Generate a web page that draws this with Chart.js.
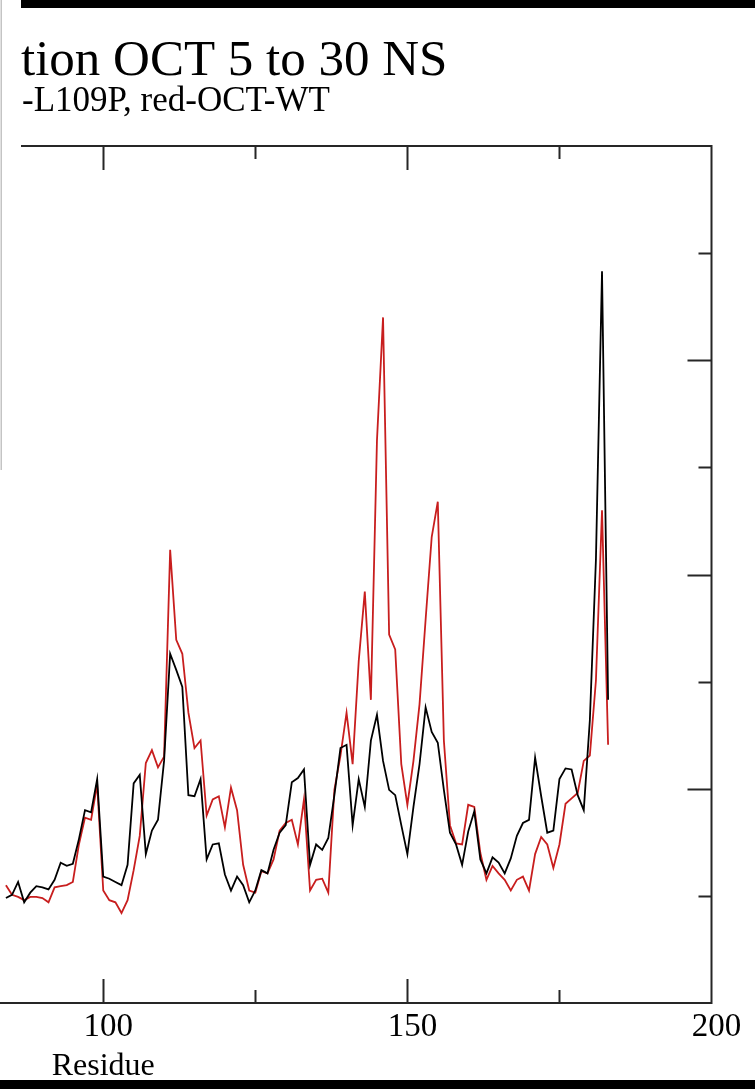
<!DOCTYPE html>
<html>
<head>
<meta charset="utf-8">
<script src="https://cdn.jsdelivr.net/npm/chart.js@4.4.1/dist/chart.umd.min.js"></script>
<style>
html, body { margin: 0; padding: 0; background: #fff; overflow: hidden; width: 755px; height: 1089px; }
#wrap { position: relative; width: 755px; height: 1089px; overflow: hidden; background: #fff; }
#c { position: absolute; left: -513px; top: 0; }
</style>
</head>
<body>
<div id="wrap"><canvas id="c" width="1268" height="1089"></canvas></div>
<script>
// ---- texts ----
const titleText = "tion OCT 5 to 30 NS";
const subtitleText = "-L109P, red-OCT-WT";
const xAxisTitle = "Residue";
const xTickLabels = [100, 150, 200];

// ---- data (residue index, RMSF) ----
const residues = [
  84, 85, 86, 87, 88, 89, 90, 91, 92, 93,
  94, 95, 96, 97, 98, 99, 100, 101, 102, 103,
  104, 105, 106, 107, 108, 109, 110, 111, 112, 113,
  114, 115, 116, 117, 118, 119, 120, 121, 122, 123,
  124, 125, 126, 127, 128, 129, 130, 131, 132, 133,
  134, 135, 136, 137, 138, 139, 140, 141, 142, 143,
  144, 145, 146, 147, 148, 149, 150, 151, 152, 153,
  154, 155, 156, 157, 158, 159, 160, 161, 162, 163,
  164, 165, 166, 167, 168, 169, 170, 171, 172, 173,
  174, 175, 176, 177, 178, 179, 180, 181, 182, 183
];

// black: OCT-L109P
const rmsfL109P = [
  0.098, 0.101, 0.113, 0.094, 0.103, 0.109, 0.108, 0.106, 0.115, 0.131,
  0.128, 0.130, 0.153, 0.180, 0.178, 0.209, 0.118, 0.116, 0.113, 0.110,
  0.129, 0.205, 0.213, 0.139, 0.161, 0.171, 0.226, 0.326, 0.311, 0.295,
  0.194, 0.193, 0.209, 0.134, 0.148, 0.149, 0.120, 0.105, 0.118, 0.110,
  0.094, 0.105, 0.124, 0.121, 0.143, 0.159, 0.166, 0.206, 0.210, 0.218,
  0.129, 0.148, 0.143, 0.154, 0.194, 0.238, 0.241, 0.166, 0.209, 0.183,
  0.245, 0.269, 0.226, 0.199, 0.194, 0.166, 0.139, 0.183, 0.223, 0.276,
  0.253, 0.243, 0.199, 0.159, 0.148, 0.129, 0.160, 0.179, 0.134, 0.121,
  0.136, 0.131, 0.121, 0.135, 0.156, 0.168, 0.171, 0.229, 0.193, 0.159,
  0.161, 0.209, 0.219, 0.218, 0.194, 0.180, 0.264, 0.414, 0.683, 0.283
];

// red: OCT-WT
const rmsfWT = [
  0.110, 0.101, 0.099, 0.096, 0.099, 0.099, 0.098, 0.094, 0.108, 0.109,
  0.110, 0.113, 0.148, 0.173, 0.171, 0.204, 0.105, 0.096, 0.094, 0.084,
  0.096, 0.124, 0.156, 0.224, 0.236, 0.220, 0.230, 0.423, 0.339, 0.326,
  0.271, 0.238, 0.245, 0.175, 0.190, 0.193, 0.164, 0.201, 0.180, 0.129,
  0.105, 0.103, 0.123, 0.121, 0.134, 0.161, 0.168, 0.171, 0.148, 0.190,
  0.105, 0.115, 0.116, 0.103, 0.199, 0.231, 0.271, 0.223, 0.319, 0.384,
  0.283, 0.525, 0.640, 0.344, 0.330, 0.223, 0.185, 0.226, 0.279, 0.358,
  0.435, 0.468, 0.245, 0.166, 0.149, 0.148, 0.185, 0.183, 0.140, 0.115,
  0.128, 0.121, 0.115, 0.105, 0.115, 0.118, 0.105, 0.139, 0.155, 0.148,
  0.126, 0.148, 0.186, 0.191, 0.196, 0.226, 0.231, 0.301, 0.460, 0.241
];

// ---- axis ranges ----
const xMin = 0, xMax = 200, xMajor = 50, xMinor = 25;
const yMin = 0, yMax = 0.8, yMajor = 0.2, yMinor = 0.1;

// ---- styling ----
const SHIFT = 513;              // canvas is wider than the view; the view shows its right part
const FONT = '"Liberation Serif", "Times New Roman", serif';
const frameColor = '#262626';
const blackLine = '#000000';
const redLine = '#c81e1e';

const toPts = (vals) => vals.map((v, i) => ({ x: residues[i], y: v }));

const gracePlugin = {
  id: 'grace',
  afterDraw(chart) {
    const ctx = chart.ctx;
    const a = chart.chartArea;
    const xs = chart.scales.x, ys = chart.scales.y;
    const W = chart.width;
    ctx.save();
    // frame
    ctx.strokeStyle = frameColor;
    ctx.lineWidth = 2;
    ctx.beginPath();
    ctx.moveTo(a.left, a.top); ctx.lineTo(a.right, a.top);
    ctx.lineTo(a.right, a.bottom); ctx.lineTo(a.left, a.bottom);
    ctx.closePath();
    ctx.stroke();
    // x ticks (inward, top and bottom)
    const nx = Math.round((xMax - xMin) / xMinor);
    for (let i = 1; i < nx; i++) {
      const v = xMin + i * xMinor;
      const p = Math.round(xs.getPixelForValue(v)) + 0.5;
      const len = (v % xMajor === 0) ? 24 : 13;
      ctx.beginPath();
      ctx.moveTo(p, a.top); ctx.lineTo(p, a.top + len);
      ctx.moveTo(p, a.bottom); ctx.lineTo(p, a.bottom - len);
      ctx.stroke();
    }
    // y ticks (inward, right and left)
    const ny = Math.round((yMax - yMin) / yMinor);
    for (let i = 1; i < ny; i++) {
      const v = yMin + i * yMinor;
      const p = Math.round(ys.getPixelForValue(v)) + 0.5;
      const len = (i % Math.round(yMajor / yMinor) === 0) ? 24 : 13;
      ctx.beginPath();
      ctx.moveTo(a.right, p); ctx.lineTo(a.right - len, p);
      ctx.moveTo(a.left, p); ctx.lineTo(a.left + len, p);
      ctx.stroke();
    }
    // window bars
    ctx.fillStyle = '#000';
    ctx.fillRect(0, 0, W, 8);
    ctx.fillRect(0, 1080, W, 9);
    // titles
    ctx.fillStyle = '#000';
    ctx.textAlign = 'left';
    ctx.textBaseline = 'alphabetic';
    ctx.font = '51px ' + FONT;
    ctx.fillText(titleText, SHIFT + 21, 75);
    ctx.font = '35px ' + FONT;
    ctx.fillText(subtitleText, SHIFT + 22, 111);
    // left white strip with light edge
    ctx.fillStyle = '#ffffff';
    ctx.fillRect(SHIFT, 0, 21, 470);
    ctx.fillStyle = '#c4c4c4';
    ctx.fillRect(SHIFT + 0.5, 0, 1.5, 470);
    ctx.restore();
  }
};

new Chart(document.getElementById('c'), {
  type: 'line',
  data: {
    datasets: [
      { label: 'OCT-L109P', data: toPts(rmsfL109P), borderColor: blackLine, borderWidth: 1.8, pointRadius: 0, tension: 0, fill: false },
      { label: 'OCT-WT', data: toPts(rmsfWT), borderColor: redLine, borderWidth: 1.8, pointRadius: 0, tension: 0, fill: false }
    ]
  },
  options: {
    responsive: false,
    devicePixelRatio: 1,
    animation: false,
    events: [],
    layout: { padding: { top: 146, right: 43.5, bottom: 6.7, left: 0 } },
    plugins: { legend: { display: false }, title: { display: false }, tooltip: { enabled: false } },
    scales: {
      x: {
        type: 'linear', min: xMin, max: xMax, position: 'bottom',
        grid: { display: false, drawTicks: false },
        border: { display: false },
        ticks: {
          stepSize: xMajor, autoSkip: false, maxRotation: 0, padding: 8, labelOffset: 5,
          color: '#000', font: { family: FONT, size: 33, lineHeight: 1 },
          callback: (v) => xTickLabels.includes(v) ? String(v) : ''
        },
        title: { display: true, text: xAxisTitle, color: '#000', font: { family: FONT, size: 32, lineHeight: 0.9 }, padding: { top: 0, bottom: 1.5 } }
      },
      y: { type: 'linear', min: yMin, max: yMax, display: false }
    }
  },
  plugins: [gracePlugin]
});
</script>
</body>
</html>
